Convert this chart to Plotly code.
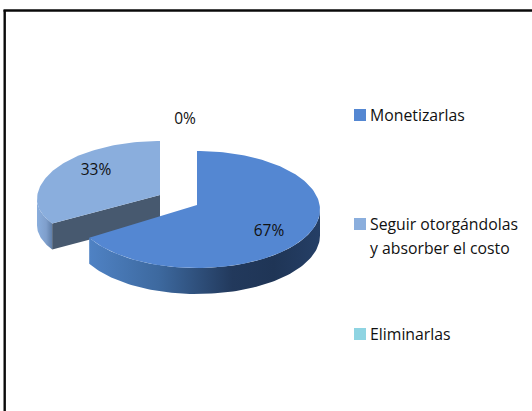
import numpy as np
import plotly.graph_objects as go

categories = ["Monetizarlas", "Seguir otorgándolas<br>y absorber el costo", "Eliminarlas"]
values = [67, 33, 0]
top_colors = ["#5487d2", "#8aaedd", "#8ed4e2"]
legend_y = [115, 224, 334]

# layout of the drawing, in pixels of the page
RX, RY, DEPTH = 123, 58.5, 26
RY_LOWER2 = 50
CENTERS = [(197, 209.5), (160, 199.5)]
APEX_LIFT = 4.5
FONT = "Open Sans"
LINE_STEP = 24

def ell(c, th, dy=0, rx=RX, ry=RY):
    return c[0] + rx * np.sin(th), c[1] - ry * np.cos(th) + dy

def ell2(c, th, dy=0):
    ry = np.where(np.cos(th) < 0, RY_LOWER2, RY)
    return c[0] + RX * np.sin(th), c[1] - ry * np.cos(th) + dy

def deg(v):
    return np.deg2rad(v * 360 / sum(values))

fig = go.Figure()
def poly(x, y, color=None, grad=None):
    kw = dict(x=list(x), y=list(y), mode="lines", line=dict(width=0), fill="toself",
              showlegend=False, hoverinfo="skip")
    if grad:
        kw["fillgradient"] = dict(type="horizontal", colorscale=grad)
    else:
        kw["fillcolor"] = color
    fig.add_trace(go.Scatter(**kw))

# exploded slice (second category): outer wall, cut face, top
s2, e2 = deg(values[0]), deg(values[0] + values[1])
c2 = CENTERS[1]
t = np.linspace(s2, np.deg2rad(270), 30)
xa, ya = ell2(c2, t)
xb, yb = ell2(c2, t, DEPTH)
poly(np.r_[xa, xb[::-1]], np.r_[ya, yb[::-1]],
     grad=[[0, "#8aaedd"], [0.6, "#7f9fcc"], [1, "#5f7ea8"]])
ax, ay = c2[0], c2[1] - APEX_LIFT
ex, ey = ell2(c2, s2)
poly([ax, ex, ex, ax], [ay, ey, ey + DEPTH, ay + DEPTH], "#47596f")
t = np.linspace(s2, e2, 90)
xa, ya = ell2(c2, t)
poly(np.r_[ax, xa], np.r_[ay, ya], top_colors[1])

# main slice (first category): outer wall and top
c1 = CENTERS[0]
s1 = deg(values[0])
t = np.linspace(np.deg2rad(90), s1, 90)
xa, ya = ell(c1, t)
xb, yb = ell(c1, t, DEPTH)
poly(np.r_[xa, xb[::-1]], np.r_[ya, yb[::-1]],
     grad=[[0, "#4f82c4"], [0.3, "#3d699f"], [0.62, "#22395c"], [0.8, "#1f3556"], [1, "#253f66"]])
t = np.linspace(0, s1, 160)
xa, ya = ell(c1, t)
poly(np.r_[c1[0], xa], np.r_[c1[1] - APEX_LIFT, ya], top_colors[0])

# percentage labels
label_x = [269, 96, 185]
label_y = [232, 171, 120]
fig.add_trace(go.Scatter(x=label_x, y=label_y, mode="text",
    text=[f"{v}%" for v in values], textposition="middle center",
    textfont=dict(family=FONT, size=15.5, color="#111111"),
    showlegend=False, hoverinfo="skip"))

# legend
fig.add_trace(go.Scatter(x=[360] * 3, y=legend_y, mode="markers",
    marker=dict(symbol="square", size=12, color=top_colors, line=dict(width=0)),
    showlegend=False, hoverinfo="skip"))
for lab, ly in zip(categories, legend_y):
    for i, part in enumerate(lab.split("<br>")):
        fig.add_annotation(x=368, y=ly + i * LINE_STEP, text=part, xref="x", yref="y", showarrow=False,
                           xanchor="left", yanchor="middle", align="left",
                           font=dict(family=FONT, size=15.8, color="#111111"))

fig.update_layout(
    width=532, height=411, margin=dict(l=0, r=0, t=0, b=0),
    paper_bgcolor="white", plot_bgcolor="white",
    xaxis=dict(range=[0, 532], visible=False, fixedrange=True),
    yaxis=dict(range=[411, 0], visible=False, fixedrange=True),
    shapes=[
        dict(type="line", xref="x", yref="y", x0=3.5, x1=532, y0=10.5, y1=10.5, line=dict(color="#0a0a0a", width=2.4)),
        dict(type="line", xref="x", yref="y", x0=4.7, x1=4.7, y0=10, y1=411, line=dict(color="#0a0a0a", width=2.4)),
    ],
)
fig.write_html("out.html", config=dict(displayModeBar=False),
               post_script="document.body.style.margin='0';document.documentElement.style.overflow='hidden';")
